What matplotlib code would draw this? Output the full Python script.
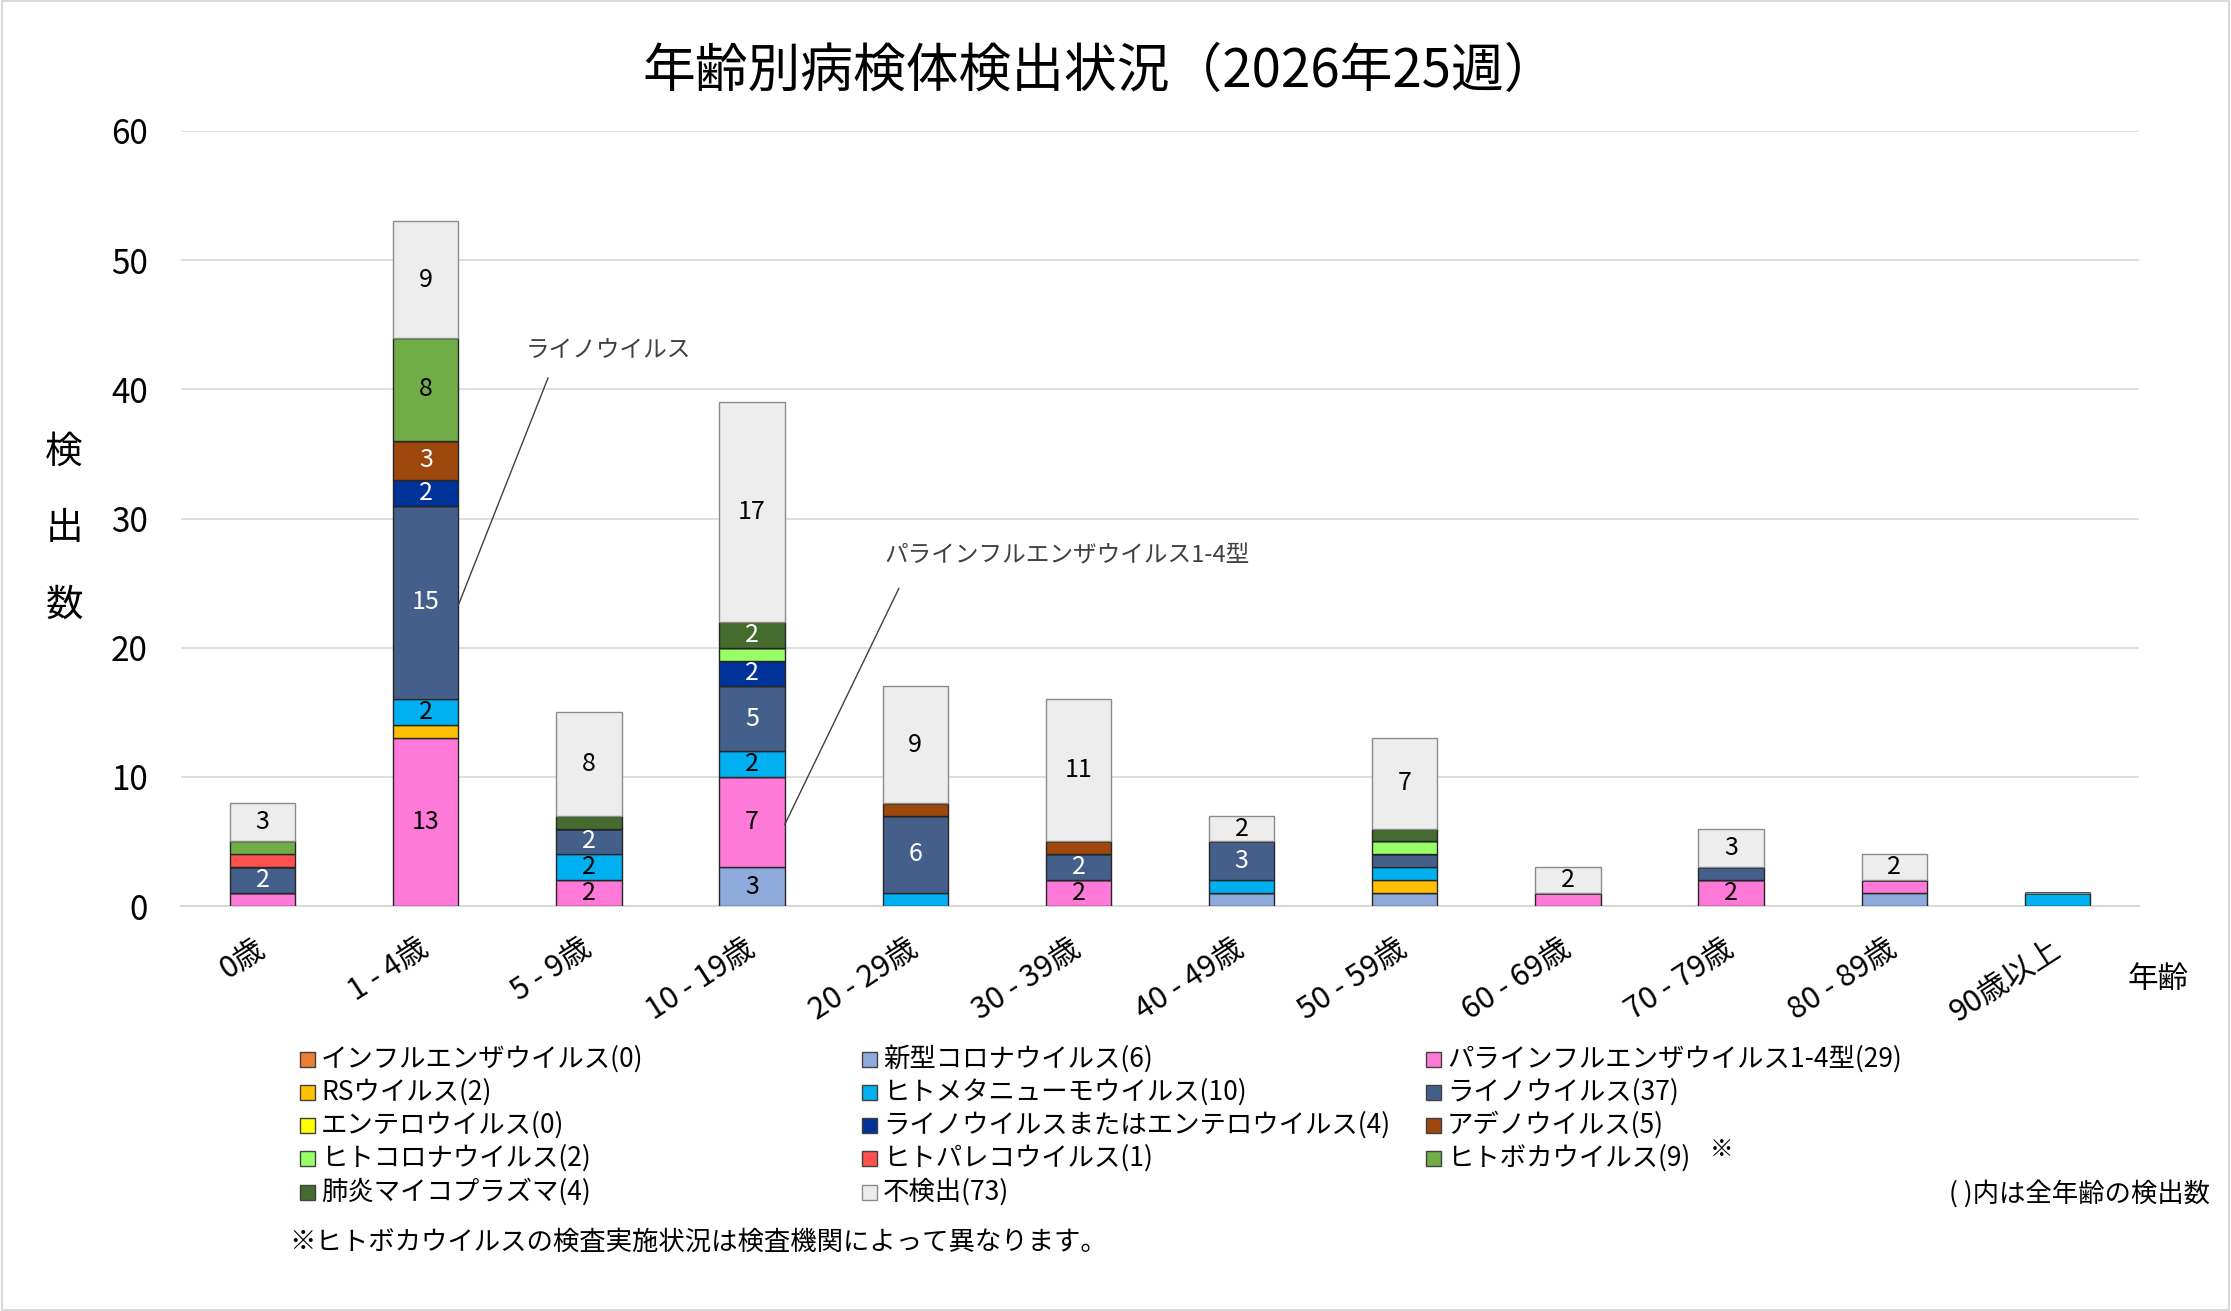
import numpy as np
import matplotlib
matplotlib.use("Agg")
import matplotlib.pyplot as plt
from matplotlib.patches import Rectangle

plt.rcParams['font.family'] = ['Noto Sans CJK JP', 'DejaVu Sans']

# age groups on the x axis
ages = ['0歳', '1 - 4歳', '5 - 9歳', '10 - 19歳', '20 - 29歳', '30 - 39歳',
        '40 - 49歳', '50 - 59歳', '60 - 69歳', '70 - 79歳', '80 - 89歳', '90歳以上']

# detections per age group, in stacking order (bottom -> top)
influenza  = [0, 0, 0, 0, 0, 0, 0, 0, 0, 0, 0, 0]
covid      = [0, 0, 0, 3, 0, 0, 1, 1, 0, 0, 1, 0]
parainflu  = [1, 13, 2, 7, 0, 2, 0, 0, 1, 2, 1, 0]
rs         = [0, 1, 0, 0, 0, 0, 0, 1, 0, 0, 0, 0]
hmpv       = [0, 2, 2, 2, 1, 0, 1, 1, 0, 0, 0, 1]
rhino      = [2, 15, 2, 5, 6, 2, 3, 1, 0, 1, 0, 0]
entero     = [0, 0, 0, 0, 0, 0, 0, 0, 0, 0, 0, 0]
rhino_ent  = [0, 2, 0, 2, 0, 0, 0, 0, 0, 0, 0, 0]
adeno      = [0, 3, 0, 0, 1, 1, 0, 0, 0, 0, 0, 0]
hcov       = [0, 0, 0, 1, 0, 0, 0, 1, 0, 0, 0, 0]
parecho    = [1, 0, 0, 0, 0, 0, 0, 0, 0, 0, 0, 0]
boca       = [1, 8, 0, 0, 0, 0, 0, 0, 0, 0, 0, 0]
mycoplasma = [0, 0, 1, 2, 0, 0, 0, 1, 0, 0, 0, 0]
negative   = [3, 9, 8, 17, 9, 11, 2, 7, 2, 3, 2, 0]

series = [
    ('インフルエンザウイルス', influenza, '#ED7D31', 'black'),
    ('新型コロナウイルス', covid, '#8FAADC', 'black'),
    ('パラインフルエンザウイルス1-4型', parainflu, '#FF79D9', 'black'),
    ('RSウイルス', rs, '#FFC000', 'black'),
    ('ヒトメタニューモウイルス', hmpv, '#00B0F0', 'black'),
    ('ライノウイルス', rhino, '#445F8A', 'white'),
    ('エンテロウイルス', entero, '#FFFF00', 'black'),
    ('ライノウイルスまたはエンテロウイルス', rhino_ent, '#003399', 'white'),
    ('アデノウイルス', adeno, '#9E480E', 'white'),
    ('ヒトコロナウイルス', hcov, '#99FF66', 'black'),
    ('ヒトパレコウイルス', parecho, '#FF5050', 'black'),
    ('ヒトボカウイルス', boca, '#70AD47', 'black'),
    ('肺炎マイコプラズマ', mycoplasma, '#466B2E', 'white'),
    ('不検出', negative, '#EDEDED', 'black'),
]

# legend layout (column-major, as in the original)
legend_cols = [
    ['インフルエンザウイルス', 'RSウイルス', 'エンテロウイルス', 'ヒトコロナウイルス', '肺炎マイコプラズマ'],
    ['新型コロナウイルス', 'ヒトメタニューモウイルス', 'ライノウイルスまたはエンテロウイルス', 'ヒトパレコウイルス', '不検出'],
    ['パラインフルエンザウイルス1-4型', 'ライノウイルス', 'アデノウイルス', 'ヒトボカウイルス'],
]

W, H = 2231, 1311
fig = plt.figure(figsize=(W / 100, H / 100), dpi=100)
ax = fig.add_axes([181 / W, 1 - 906 / H, (2139 - 181) / W, (906 - 131) / H])

x = np.arange(len(ages))
bottom = np.zeros(len(ages))
for name, vals, col, tcol in series:
    vals = np.array(vals, dtype=float)
    ec = '#8C8C8C' if name == '不検出' else '#262626'
    ax.bar(x, vals, 0.4, bottom=bottom, color=col, edgecolor=ec,
           linewidth=1.0, zorder=3)
    for xi, v, b in zip(x, vals, bottom):
        if v >= 2:
            ax.text(xi, b + v / 2, f'{int(v)}', ha='center', va='center',
                    color=tcol, fontsize=18, zorder=4)
    bottom += vals

ax.set_xlim(-0.5, 11.5)
ax.set_ylim(0, 60)
ax.set_yticks(np.arange(0, 61, 10))
ax.yaxis.grid(True, color='#D9D9D9', linewidth=1.2, zorder=0)
ax.set_axisbelow(True)
for s in ['top', 'right', 'left']:
    ax.spines[s].set_visible(False)
ax.spines['bottom'].set_color('#D9D9D9')
ax.spines['bottom'].set_linewidth(1.5)
ax.tick_params(axis='y', length=0, pad=24, labelsize=24)
ax.tick_params(axis='x', length=0, pad=29, labelsize=22)
ax.set_xticks(x)
ax.set_xticklabels(ages, rotation=33, ha='right', va='center', rotation_mode='anchor')

fig.text(1100 / W, 1 - 71 / H, '年齢別病検体検出状況（2026年25週）', ha='center',
         va='center', fontsize=38)
for ch, yy in zip('検出数', [452, 529, 605]):
    fig.text(64 / W, 1 - yy / H, ch, ha='center', va='center', fontsize=27)
fig.text(2158 / W, 1 - 979 / H, '年齢', ha='center', va='center', fontsize=22)

# callouts: leader line + label
ax.annotate('', xy=(1.2, 23.3), xytext=(1.75, 40.9),
            arrowprops=dict(arrowstyle='-', color='#404040', lw=1,
                            shrinkA=0, shrinkB=0))
ax.text(2.12, 43.0, 'ライノウイルス', ha='center', va='center', fontsize=17,
        color='#404040')
ax.annotate('', xy=(3.2, 6.3), xytext=(3.90, 24.6),
            arrowprops=dict(arrowstyle='-', color='#404040', lw=1,
                            shrinkA=0, shrinkB=0))
ax.text(4.93, 27.1, 'パラインフルエンザウイルス1-4型', ha='center', va='center',
        fontsize=17, color='#404040')

# legend
info = {name: (vals, col) for name, vals, col, _ in series}
col_x = [307, 869, 1433]
row_y = [1059, 1092, 1125, 1158, 1192]
sq = 15
for cx, names in zip(col_x, legend_cols):
    for ry, name in zip(row_y, names):
        vals, col = info[name]
        ec = '#8C8C8C' if name == '不検出' else '#404040'
        fig.patches.append(Rectangle(((cx - sq / 2) / W, 1 - (ry + sq / 2) / H),
                                     sq / W, sq / H, transform=fig.transFigure,
                                     facecolor=col, edgecolor=ec, linewidth=1))
        fig.text((cx + 14) / W, 1 - ry / H, f'{name}({sum(vals)})',
                 ha='left', va='center', fontsize=19)
fig.text(1722 / W, 1 - 1150 / H, '※', ha='center', va='center', fontsize=17)
fig.text(2210 / W, 1 - 1194 / H, '( )内は全年齢の検出数', ha='right', va='center', fontsize=19)
fig.text(289 / W, 1 - 1242 / H, '※ヒトボカウイルスの検査実施状況は検査機関によって異なります。',
         ha='left', va='center', fontsize=19)

fig.patches.append(Rectangle((0.001, 0.001), 0.998, 0.998, transform=fig.transFigure,
                             fill=False, edgecolor='#D9D9D9', linewidth=1.5))

fig.savefig('out.png', dpi=100)
